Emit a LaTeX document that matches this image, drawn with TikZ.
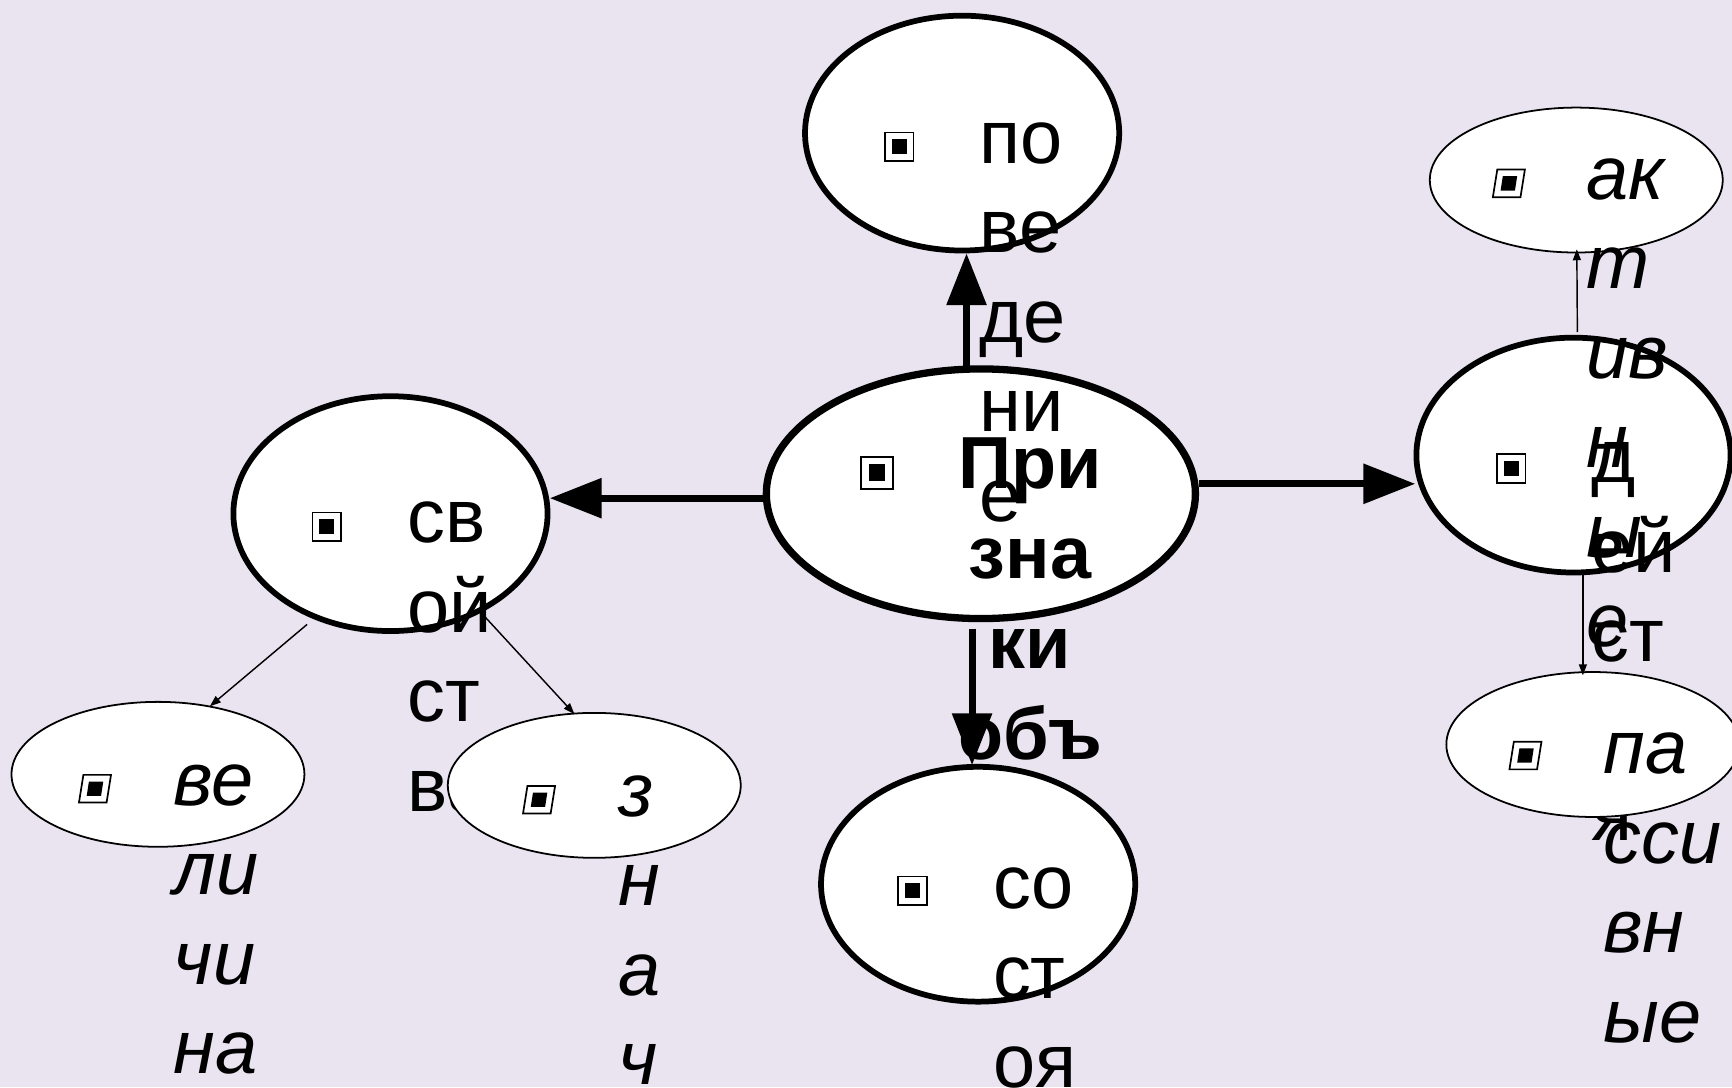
\documentclass[tikz,border=0pt]{standalone}
\usepackage{fontspec}
\setmainfont{Liberation Sans}
\usetikzlibrary{shapes.geometric,arrows.meta,calc}
\definecolor{bgcol}{RGB}{234,227,240}
\newcommand{\markbox}[4]{%
  \draw[line width=#3/13*0.8pt,fill=white] (#1-#3-#4,#2+#3) -- (#1+#3-#4,#2+#3) -- (#1+#3+#4,#2-#3) -- (#1-#3+#4,#2-#3) -- cycle;
  \fill[black] (#1-#3*0.52-#4*0.5,#2+#3*0.52) -- (#1+#3*0.52-#4*0.5,#2+#3*0.52) -- (#1+#3*0.52+#4*0.5,#2-#3*0.52) -- (#1-#3*0.52+#4*0.5,#2-#3*0.52) -- cycle;}
\tikzset{
  x=0.5pt,y=-0.5pt,
  big/.style={shape=ellipse,draw=black,fill=white,inner sep=0pt,outer sep=0pt,line width=2.6pt,minimum width=142.2pt,minimum height=106.3pt},
  small/.style={shape=ellipse,draw=black,fill=white,inner sep=0pt,outer sep=0pt,line width=0.8pt,minimum width=132.6pt,minimum height=65.6pt},
  lbl/.style={anchor=north west,inner sep=0pt,outer sep=0pt,align=left,font=\fontsize{34.3}{40.5}\selectfont},
  ilbl/.style={lbl,font=\fontsize{34.3}{40.5}\selectfont\itshape},
  heavy/.style={line width=3.2pt,-{Triangle[length=23.5pt,width=17.5pt]}},
  fine/.style={line width=0.65pt,-{Triangle[length=5pt,width=3.6pt]}},
}
\begin{document}
\begin{tikzpicture}
\fill[bgcol] (0,0) rectangle (1568,984.1);
\useasboundingbox (0,0) rectangle (1568,984.1);
\clip (0,0) rectangle (1568,984.1);
% thick ellipses
\node[big] (top) at (871,120.5) {};
\node[big,line width=3.3pt,minimum width=194.2pt,minimum height=113pt] (c) at (888,447) {};
\node[big] (left) at (353.5,465) {};
\node[big] (act) at (1424.5,412) {};
% main arrows
\draw[heavy] ($(c.north)+(-13,-3)$) -- ($(top.south)+(4,2.5)$);
\draw[heavy] ($(c.west)+(-3,4)$) -- ($(left.east)+(2,-14)$);
\draw[heavy] ($(c.east)+(3,-9)$) -- ($(act.west)+(-1,26)$);
\draw[heavy] ($(c.south)+(-8,9)$) -- ($(top.south)+(9,466)$);
% texts of the main ellipses
\markbox{814}{133}{13}{0}
\node[lbl] (tpov) at (887,148-56.7) {\strut по\\ве\\де\\ни\\е};
\markbox{794}{428}{14.5}{0}
\node[lbl,anchor=north,align=center,font=\fontsize{33.4}{40.9}\selectfont\bfseries] (tmain) at (932.5,442-57.3) {\strut При\\зна\\ки\\объ};
\markbox{296}{477}{13}{0}
\node[lbl] (tsv) at (369,491.5-56.7) {\strut св\\ой\\ст\\ва};
\markbox{1368}{424}{13}{0}
\node[lbl] (tde) at (1440.5,437-56.7) {\strut д\\ей\\ст\\ви\\я};
% state
\node[big] (st) at (885.5,800.5) {};
\markbox{826}{806.5}{13}{0}
\node[lbl] (tst) at (899,822.5-56.7) {\strut со\\ст\\оя};
% thin ellipses
\node[small] (ak) at (1427,163) {};
\node[small] (pa) at (1442,674) {};
\node[small] (ve) at (143,701) {};
\node[small] (zn) at (538,711) {};
\markbox{1366}{166}{12.5}{2}
\node[ilbl] (tak) at (1436.5,180.5-56.7) {\strut ак\\т\\ив\\н\\ы\\е};
\markbox{1381}{684}{12.5}{2}
\node[ilbl] (tpa) at (1451.5,700.5-56.7) {\strut па\\сси\\вн\\ые};
\markbox{86}{714}{12.5}{2}
\node[ilbl] (tve) at (157.5,729-56.7) {\strut ве\\ли\\чи\\на};
\markbox{488}{724}{12.5}{2}
\node[ilbl] (tzn) at (559.5,739-56.7) {\strut з\\н\\а\\ч};
% thin arrows
\draw[fine] ($(left.south)+(-75.5,-6)$) -- ($(ve.north)+(47,4)$);
\draw[fine] ($(left.south)+(84.5,-14)$) -- ($(zn.north)+(-18,1)$);
\draw[fine] ($(act.north)+(3.5,-5)$) -- ($(ak.south)+(0.5,-3)$);
\draw[fine] ($(act.south)+(8.5,2)$) -- ($(pa.north)+(-9,3)$);
\end{tikzpicture}
\end{document}
